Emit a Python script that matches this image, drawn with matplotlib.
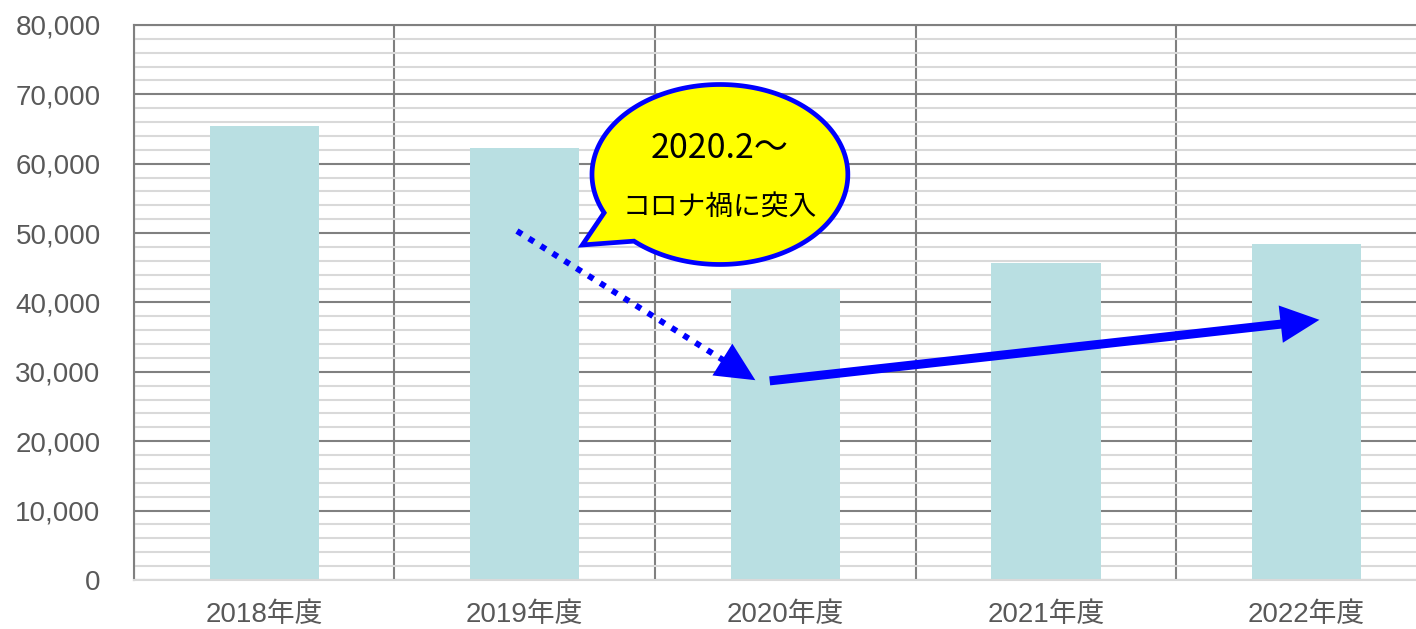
import numpy as np
import matplotlib
matplotlib.use("Agg")
import matplotlib.pyplot as plt
from matplotlib.patches import Polygon, FancyArrowPatch
from matplotlib.ticker import FuncFormatter, MultipleLocator

plt.rcParams['font.family'] = ['Liberation Sans', 'Noto Sans CJK JP', 'DejaVu Sans']

years = ['2018年度', '2019年度', '2020年度', '2021年度', '2022年度']
values = [65400, 62300, 41900, 45700, 48400]

callout_lines = ['2020.2～', 'コロナ禍に突入']

# annotation anchors in data units (x = category index, y = value)
dip_arrow = [(0.97, 50300), (1.885, 28800)]
recover_arrow = [(1.94, 28700), (4.05, 37500)]
bubble_center = (1.749, 58450)
bubble_radius = (0.491, 12970)
bubble_tip = (1.221, 48290)
bubble_gap = (227.8, 205.2)   # degrees where the tail leaves the ellipse

bar_color = '#B9DFE2'
blue = '#0000FF'
grey_txt = '#595959'

fig = plt.figure(figsize=(14.16, 6.29), dpi=100)
ax = fig.add_axes([0.0946, 0.0779, 0.92, 0.8824])

x = np.arange(len(years))
ax.bar(x, values, width=0.42, color=bar_color, zorder=2)

ax.set_xlim(-0.5, len(years) - 0.5)
ax.set_ylim(0, 80000)
ax.yaxis.set_major_locator(MultipleLocator(10000))
ax.yaxis.set_minor_locator(MultipleLocator(2000))
ax.yaxis.set_major_formatter(FuncFormatter(lambda v, p: '{:,.0f}'.format(v)))
ax.set_xticks(x)
ax.set_xticklabels(years)
ax.set_xticks(np.arange(-0.5, len(years)), minor=True)

ax.set_axisbelow(True)
ax.grid(which='minor', axis='y', color='#D9D9D9', lw=1.5)
ax.grid(which='major', axis='y', color='#808080', lw=1.5)
ax.grid(which='minor', axis='x', color='#808080', lw=1.5)

ax.tick_params(which='both', length=0)
ax.tick_params(axis='y', labelsize=20, labelcolor=grey_txt, pad=24)
ax.tick_params(axis='x', labelsize=20, labelcolor=grey_txt, pad=16)

for s in ['left', 'top', 'right']:
    ax.spines[s].set_color('#808080')
    ax.spines[s].set_linewidth(1.5)
ax.spines['bottom'].set_color('#D9D9D9')
ax.spines['bottom'].set_linewidth(1.5)

# speech bubble
cx, cy = bubble_center
rx, ry = bubble_radius
t = np.radians(np.linspace(bubble_gap[0], bubble_gap[1] + 360, 200))
pts = np.column_stack([cx + rx * np.cos(t), cy + ry * np.sin(t)])
pts = np.vstack([pts, bubble_tip])
ax.add_patch(Polygon(pts, closed=True, facecolor='#FFFF00', edgecolor=blue,
                     lw=3.4, zorder=5, joinstyle='miter'))
ax.text(cx, cy + 0.29 * ry, callout_lines[0], ha='center', va='center',
        fontsize=24.5, family=['Noto Sans CJK JP'], zorder=6)
ax.text(cx, cy - 0.37 * ry, callout_lines[1], ha='center', va='center',
        fontsize=20, family=['Noto Sans CJK JP'], zorder=6)


def arrow(ax, start, end, lw, dotted, frac):
    (x0, y0), (x1, y1) = start, end
    ls = (0, (1, 1.35)) if dotted else '-'
    ax.plot([x0, x0 + frac * (x1 - x0)], [y0, y0 + frac * (y1 - y0)], color=blue,
            lw=lw, ls=ls, dash_capstyle='butt', solid_capstyle='butt', zorder=4)
    ax.add_patch(FancyArrowPatch((x0 + 0.7 * (x1 - x0), y0 + 0.7 * (y1 - y0)), (x1, y1),
                                 arrowstyle='-|>,head_length=28,head_width=13.5',
                                 mutation_scale=1, lw=0, color=blue,
                                 shrinkA=0, shrinkB=0, zorder=4))


arrow(ax, dip_arrow[0], dip_arrow[1], 4.3, True, 0.87)
arrow(ax, recover_arrow[0], recover_arrow[1], 6.5, False, 0.95)

fig.savefig('out.png', dpi=100)
